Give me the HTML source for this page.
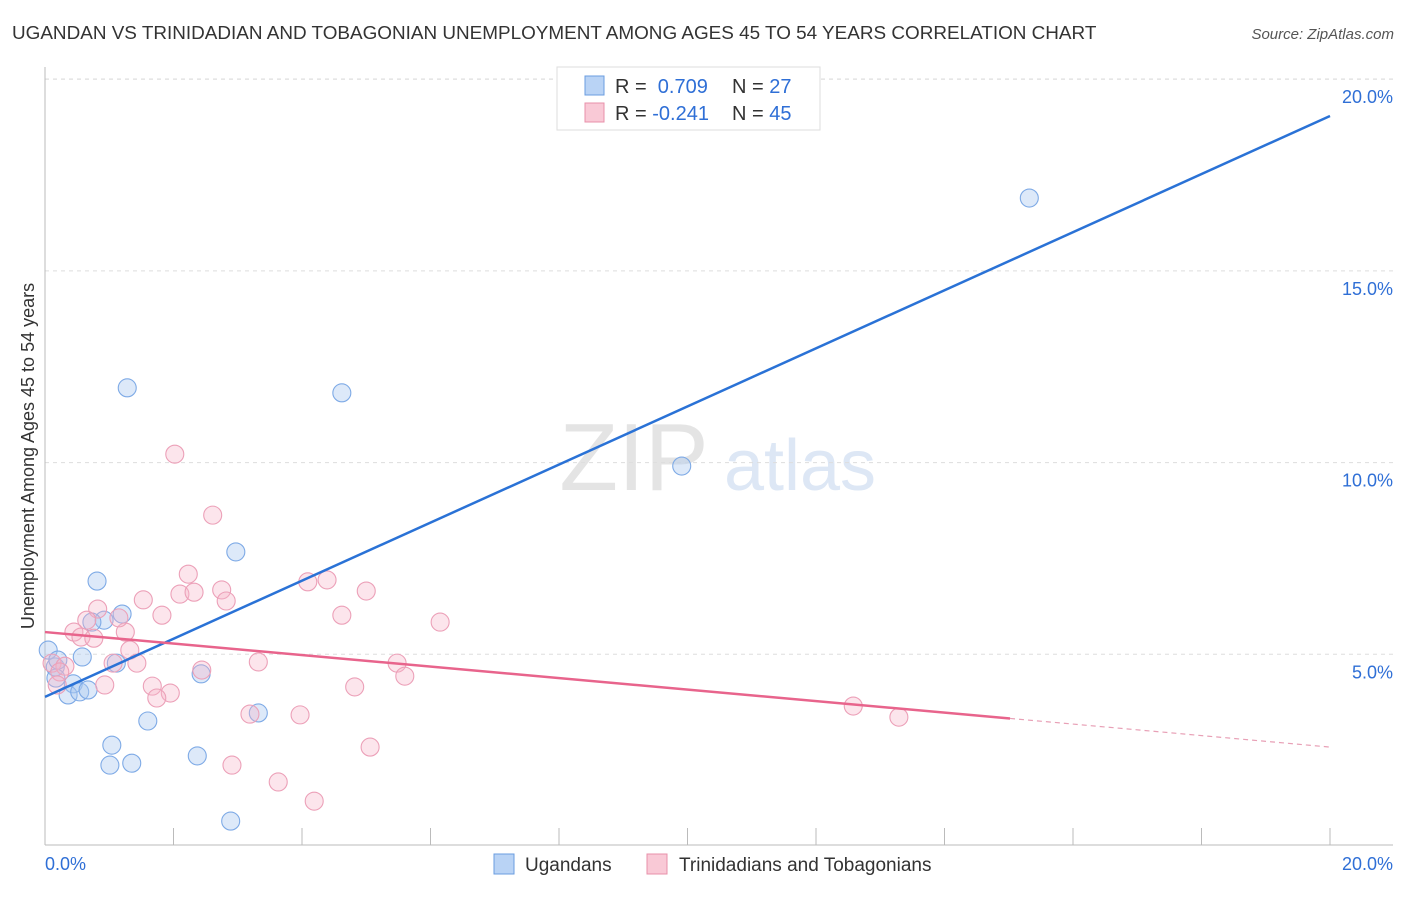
<!DOCTYPE html>
<html><head><meta charset="utf-8"><style>
body{margin:0;background:#fff;font-family:"Liberation Sans",sans-serif}
svg text{font-family:"Liberation Sans",sans-serif}
</style></head><body>
<svg id="c" width="1406" height="892">
<text x="12" y="39" font-size="18.9" fill="#333">UGANDAN VS TRINIDADIAN AND TOBAGONIAN UNEMPLOYMENT AMONG AGES 45 TO 54 YEARS CORRELATION CHART</text>
<text x="1394" y="39" font-size="15" fill="#555" font-style="italic" text-anchor="end">Source: ZipAtlas.com</text>
<text x="634" y="490" font-size="96" fill="#e4e4e4" font-family="Liberation Serif" text-anchor="middle">ZIP</text>
<text x="800" y="490" font-size="72" fill="#dde7f5" text-anchor="middle">atlas</text>
<text transform="translate(34,456) rotate(-90)" font-size="18" fill="#333" text-anchor="middle">Unemployment Among Ages 45 to 54 years</text>
<g id="grid"></g><g id="marks"></g>
<g>
<rect x="557" y="67" width="263" height="63" fill="#fff" stroke="#ddd"/>
<rect x="585" y="76" width="19" height="19" fill="#b9d3f5" stroke="#6a9de0"/>
<rect x="585" y="103" width="19" height="19" fill="#f9c9d6" stroke="#e890aa"/>
<text x="615" y="93" font-size="20" fill="#333">R = <tspan fill="#2f6fd6">&#160;0.709</tspan><tspan x="732">N = </tspan><tspan fill="#2f6fd6">27</tspan></text>
<text x="615" y="120" font-size="20" fill="#333">R = <tspan fill="#2f6fd6">-0.241</tspan><tspan x="732">N = </tspan><tspan fill="#2f6fd6">45</tspan></text>
</g>
<g>
<rect x="494" y="854" width="20" height="20" fill="#b9d3f5" stroke="#6a9de0"/>
<text x="525" y="871" font-size="19" fill="#333">Ugandans</text>
<rect x="647" y="854" width="20" height="20" fill="#f9c9d6" stroke="#e890aa"/>
<text x="679" y="871" font-size="19" fill="#333">Trinidadians and Tobagonians</text>
</g>
</svg>
<script>
const blueX=[1.28,4.62,9.91,15.32,2.97,0.81,1.20,0.92,0.73,0.58,1.11,2.43,0.16,0.05,0.17,0.44,0.36,0.54,0.67,1.60,3.32,1.04,1.01,1.35,2.37,2.89,0.20];
const blueY=[11.95,11.82,9.91,16.90,7.67,6.91,6.05,5.89,5.84,4.93,4.77,4.49,4.67,5.11,4.38,4.23,3.94,4.02,4.07,3.26,3.47,2.63,2.11,2.16,2.35,0.65,4.85];
const pinkX=[2.02,2.61,2.23,1.53,0.82,1.82,2.10,2.32,2.75,2.82,4.09,4.39,5.00,4.62,6.15,0.65,0.45,0.56,0.76,1.25,1.15,1.32,1.43,1.06,0.11,0.31,0.23,0.19,2.44,3.32,5.48,5.60,0.93,1.67,1.95,1.74,4.82,3.19,3.97,5.06,2.91,3.63,4.19,12.58,13.29];
const pinkY=[10.22,8.63,7.09,6.42,6.18,6.02,6.57,6.62,6.68,6.39,6.89,6.94,6.65,6.02,5.84,5.89,5.58,5.45,5.42,5.58,5.95,5.11,4.77,4.77,4.77,4.69,4.54,4.20,4.59,4.80,4.77,4.43,4.20,4.17,3.99,3.86,4.15,3.44,3.42,2.58,2.11,1.67,1.17,3.65,3.36];
const blueTrend=[3.89,19.04];
const pinkTrend=[5.58,2.58];
const pinkSolidEnd=15.02;
const yTicks=[5,10,15,20];
const yTickLabels=["5.0%","10.0%","15.0%","20.0%"];
const xTickVals=[0,2,4,6,8,10,12,14,16,18,20];
const NS="http://www.w3.org/2000/svg";
const X=v=>45+v*(1285/20), Y=v=>846-v*(191.7/5);
function mk(t,a,p){const e=document.createElementNS(NS,t);for(const k in a)e.setAttribute(k,a[k]);p.appendChild(e);return e;}
const gridG=document.getElementById('grid'),marksG=document.getElementById('marks');
yTicks.forEach((v,i)=>{
 const l=mk('line',{x1:45,x2:1393,y1:Y(v),y2:Y(v),stroke:'#ddd','stroke-dasharray':'4,4'},gridG);
 
 
 const t=mk('text',{x:1393,y:Y(v)+24,'font-size':18,fill:'#2f6fd6','text-anchor':'end'},gridG);t.textContent=yTickLabels[i];
 
 
});
mk('line',{x1:45,x2:1393,y1:79,y2:79,stroke:'#ddd','stroke-dasharray':'4,4'},gridG);
mk('line',{x1:45,x2:45,y1:67,y2:845,stroke:'#bbb'},gridG);
mk('line',{x1:45,x2:1393,y1:845,y2:845,stroke:'#bbb'},gridG);
xTickVals.forEach(v=>{const l=mk('line',{x1:X(v),x2:X(v),y1:828,y2:845,stroke:'#bbb'},gridG);
 
 });
[[0,"0.0%","start",45],[20,"20.0%","end",1393]].forEach(a=>{const t=mk('text',{x:a[3],y:870,'font-size':18,fill:'#2f6fd6','text-anchor':a[2]},gridG);t.textContent=a[1];
 
 });
blueX.forEach((x,i)=>{const c=mk('circle',{cx:X(x),cy:Y(blueY[i]),r:9,fill:'rgba(170,200,240,0.4)',stroke:'#7eaae6','stroke-width':1.1},marksG);
 
 });
pinkX.forEach((x,i)=>{const c=mk('circle',{cx:X(x),cy:Y(pinkY[i]),r:9,fill:'rgba(245,180,200,0.35)',stroke:'#eca0b8','stroke-width':1.1},marksG);
 
 });
const bl=mk('line',{x1:X(0),y1:Y(blueTrend[0]),x2:X(20),y2:Y(blueTrend[1]),stroke:'#2a72d6','stroke-width':2.5},marksG);


const pm=v=>pinkTrend[0]+(pinkTrend[1]-pinkTrend[0])*v/20;
const pl=mk('line',{x1:X(0),y1:Y(pm(0)),x2:X(pinkSolidEnd),y2:Y(pm(pinkSolidEnd)),stroke:'#e8648c','stroke-width':2.5},marksG);


const pd=mk('line',{x1:X(pinkSolidEnd),y1:Y(pm(pinkSolidEnd)),x2:X(20),y2:Y(pm(20)),stroke:'#e8a0b6','stroke-width':1.2,'stroke-dasharray':'5,4'},marksG);


</script>
</body></html>
